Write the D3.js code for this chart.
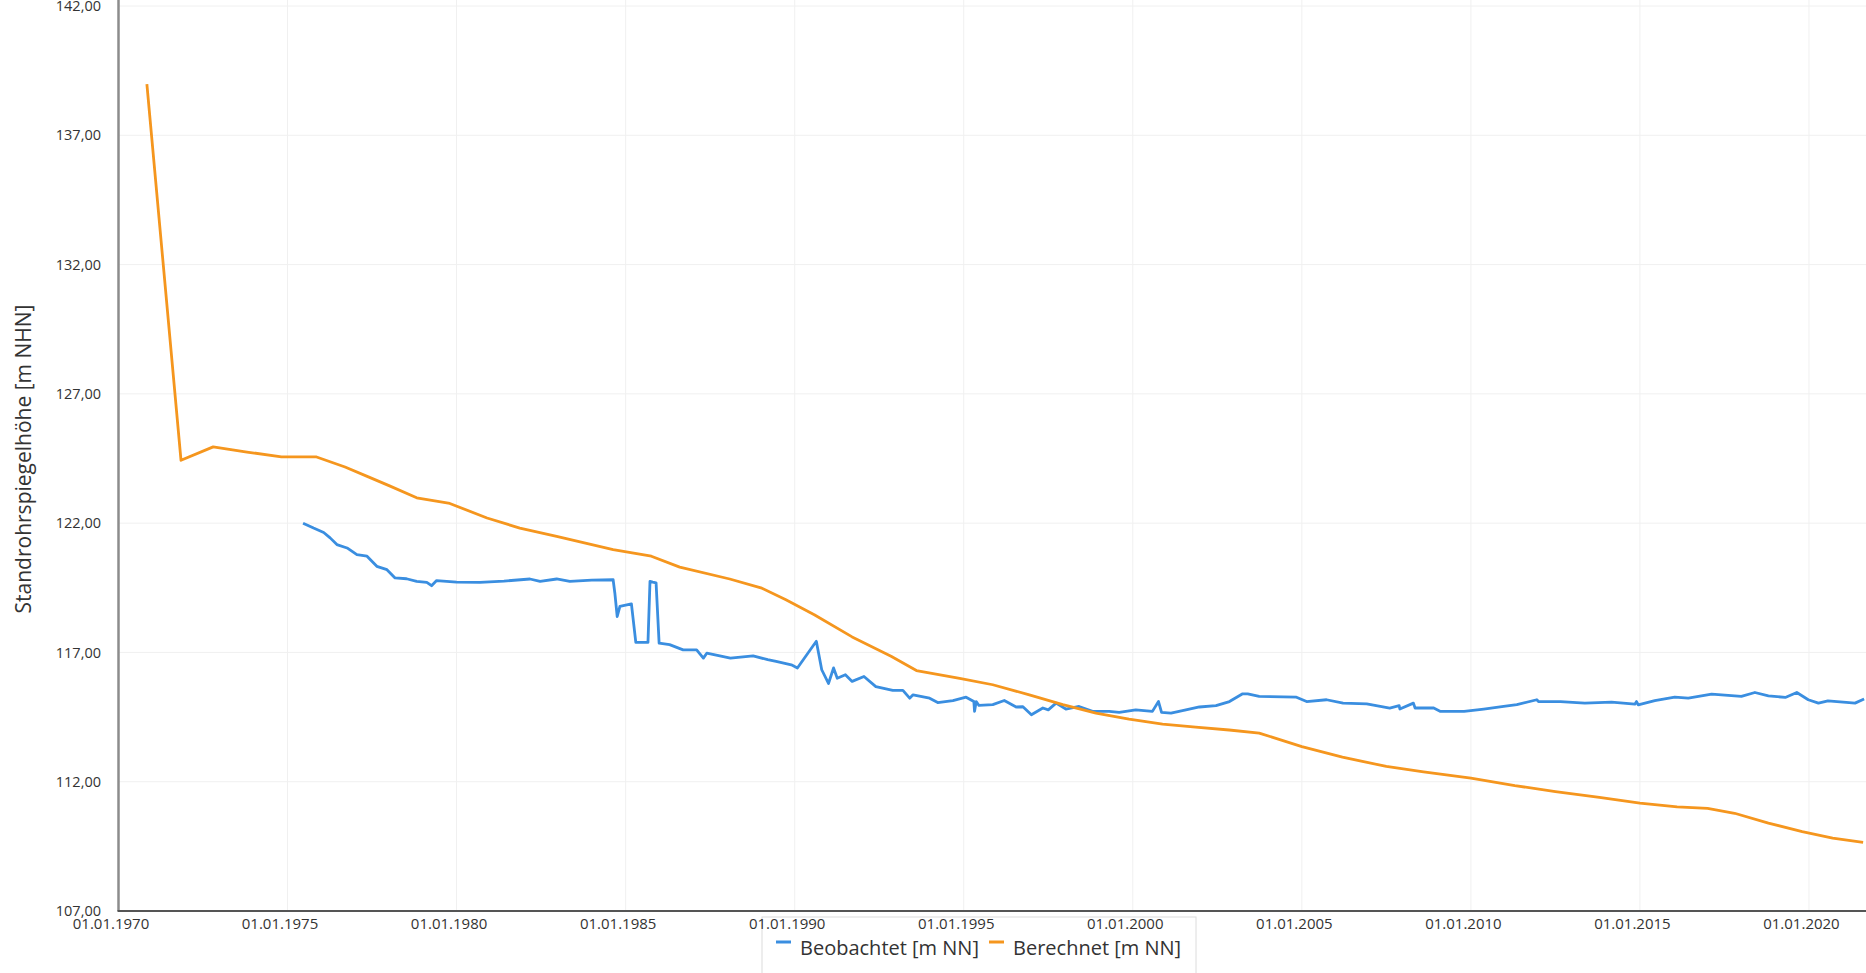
<!DOCTYPE html>
<html>
<head>
<meta charset="utf-8">
<script src="https://cdn.jsdelivr.net/npm/d3@7"></script>
<style>
    body { margin: 0; background: #fff; overflow: hidden; }
    text { font-family: "Open Sans", "Noto Sans", sans-serif; fill: #333; }
</style>
</head>
<body>
<svg id="chart" width="1866" height="973"></svg>
<script>
// observed level (Beobachtet), decimal years + values
let obsYears = [1975.46, 1975.77, 1976.07, 1976.26, 1976.46, 1976.76, 1977.05, 1977.35, 1977.64, 1977.94,
    1978.18, 1978.52, 1978.82, 1979.12, 1979.26, 1979.41, 1980.0, 1980.69, 1981.4, 1982.17,
    1982.47, 1982.96, 1983.35, 1984.0, 1984.63, 1984.68, 1984.75, 1984.83, 1985.17, 1985.3,
    1985.66, 1985.72, 1985.8, 1985.9, 1985.99, 1986.3, 1986.7, 1987.1, 1987.3, 1987.4,
    1988.1, 1988.77, 1989.2, 1989.45, 1989.9, 1990.08, 1990.64, 1990.8, 1991.0, 1991.15,
    1991.26, 1991.5, 1991.7, 1992.05, 1992.4, 1992.9, 1993.2, 1993.4, 1993.5, 1993.99,
    1994.23, 1994.68, 1995.07, 1995.3, 1995.32, 1995.37, 1995.45, 1995.86, 1996.2, 1996.55,
    1996.75, 1997.0, 1997.34, 1997.5, 1997.73, 1998.02, 1998.41, 1998.81, 1999.3, 1999.6,
    2000.09, 2000.58, 2000.76, 2000.85, 2001.13, 2001.57, 2001.97, 2002.46, 2002.86, 2003.25,
    2003.4, 2003.74, 2004.84, 2005.14, 2005.73, 2006.22, 2006.92, 2007.6, 2007.88, 2007.9,
    2008.3, 2008.35, 2008.9, 2009.1, 2009.8, 2010.38, 2010.97, 2011.36, 2011.95, 2012.0,
    2012.65, 2013.37, 2014.16, 2014.85, 2014.9, 2014.95, 2015.44, 2016.03, 2016.43, 2017.12,
    2018.0, 2018.4, 2018.8, 2019.3, 2019.64, 2019.98, 2020.28, 2020.56, 2021.1, 2021.36, 2021.63];
let obsValues = [122.0, 121.81, 121.64, 121.43, 121.17, 121.04, 120.78, 120.72, 120.33, 120.2,
    119.88, 119.85, 119.75, 119.71, 119.58, 119.78, 119.72, 119.71, 119.76, 119.84,
    119.75, 119.84, 119.75, 119.8, 119.81, 119.3, 118.39, 118.78, 118.88, 117.39,
    117.39, 119.75, 119.72, 119.69, 117.36, 117.3, 117.1, 117.1, 116.78, 116.97,
    116.78, 116.87, 116.72, 116.65, 116.52, 116.4, 117.43, 116.33, 115.8, 116.4,
    116.0, 116.14, 115.88, 116.07, 115.68, 115.53, 115.53, 115.23, 115.36, 115.23,
    115.06, 115.14, 115.27, 115.1, 114.72, 115.1, 114.95, 114.98, 115.14, 114.89,
    114.9, 114.59, 114.85, 114.78, 115.04, 114.81, 114.91, 114.72, 114.72, 114.68,
    114.78, 114.72, 115.1, 114.68, 114.65, 114.78, 114.89, 114.94, 115.1, 115.4,
    115.4, 115.3, 115.27, 115.1, 115.17, 115.04, 115.01, 114.85, 114.94, 114.81,
    115.04, 114.85, 114.85, 114.72, 114.72, 114.81, 114.91, 114.98, 115.17, 115.1,
    115.1, 115.04, 115.08, 115.0, 115.1, 114.97, 115.14, 115.27, 115.23, 115.39,
    115.3, 115.45, 115.32, 115.26, 115.45, 115.17, 115.04, 115.13, 115.07, 115.04, 115.2];

// calculated level (Berechnet)
let calcYears = [1970.84, 1971.85, 1972.8, 1973.8, 1974.82, 1975.86, 1976.7, 1977.39, 1978.0, 1978.82,
    1979.8, 1980.9, 1981.87, 1982.96, 1984.63, 1985.76, 1986.6, 1988.08, 1989.0, 1989.74,
    1990.58, 1991.7, 1992.85, 1993.6, 1994.88, 1995.86, 1996.94, 1997.93, 1998.91, 1999.89,
    2000.88, 2001.86, 2002.85, 2003.74, 2005.0, 2006.2, 2007.5, 2008.6, 2010.0, 2011.3,
    2012.5, 2013.8, 2015.0, 2016.1, 2017.0, 2017.8, 2018.8, 2019.8, 2020.7, 2021.6];
let calcValues = [138.98, 124.43, 124.95, 124.75, 124.56, 124.56, 124.17, 123.79, 123.45, 122.98,
    122.76, 122.2, 121.81, 121.49, 120.98, 120.72, 120.3, 119.84, 119.5, 119.04,
    118.46, 117.6, 116.85, 116.3, 116.0, 115.75, 115.36, 114.98, 114.65, 114.42,
    114.23, 114.11, 114.0, 113.88, 113.36, 112.95, 112.59, 112.38, 112.14, 111.85,
    111.62, 111.39, 111.17, 111.03, 110.97, 110.78, 110.4, 110.07, 109.82, 109.65];

let xTickYears = [1970, 1975, 1980, 1985, 1990, 1995, 2000, 2005, 2010, 2015, 2020];
let yTickValues = [107, 112, 117, 122, 127, 132, 137, 142];
let seriesNames = ['Beobachtet [m NN]', 'Berechnet [m NN]'];
let seriesColors = ['#3a8ee0', '#f5961e'];

// decimal year -> Date
function toDate(y) {
    let year = Math.floor(y);
    let start = new Date(year, 0, 1);
    let end = new Date(year + 1, 0, 1);
    return new Date(start.getTime() + (y - year) * (end - start));
}

let svg = d3.select('#chart');
let plot = {left: 118.5, top: 6, bottom: 911, pxPerYear: 33.81};

let xScale = d3.scaleTime()
    .domain([new Date(1970, 0, 1), new Date(2022, 0, 1)])
    .range([plot.left, plot.left + 52 * plot.pxPerYear]);
let yScale = d3.scaleLinear()
    .domain([107, 142])
    .range([plot.bottom, plot.top]);

let obsData = obsYears.map((y, i) => ({date: toDate(y), value: obsValues[i]}));
let calcData = calcYears.map((y, i) => ({date: toDate(y), value: calcValues[i]}));
let xTicks = xTickYears.map(y => new Date(y, 0, 1));

svg.append('clipPath').attr('id', 'plotClip')
    .append('rect')
    .attr('x', plot.left).attr('y', 0)
    .attr('width', 1866 - plot.left).attr('height', plot.bottom);

// gridlines
let grid = svg.append('g');
grid.selectAll('.hgrid').data(yTickValues).enter()
    .append('line')
    .attr('x1', plot.left).attr('x2', 1866)
    .attr('y1', d => yScale(d)).attr('y2', d => yScale(d))
    .attr('stroke', '#f0f0f0').attr('stroke-width', 1);
grid.selectAll('.vgrid').data(xTicks.slice(1)).enter()
    .append('line')
    .attr('x1', d => xScale(d)).attr('x2', d => xScale(d))
    .attr('y1', 0).attr('y2', plot.bottom)
    .attr('stroke', '#f0f0f0').attr('stroke-width', 1);

// axes (labels only, lines drawn separately)
let xAxis = d3.axisBottom(xScale)
    .tickValues(xTicks)
    .tickSize(0)
    .tickFormat(d3.timeFormat('%d.%m.%Y'));
let yAxis = d3.axisLeft(yScale)
    .tickValues(yTickValues)
    .tickSize(0)
    .tickFormat(d => d3.format('.2f')(d).replace('.', ','));

// legend box sits under the x labels
let legend = svg.append('g');
legend.append('rect')
    .attr('x', 762).attr('y', 917)
    .attr('width', 434).attr('height', 70)
    .attr('fill', '#fff').attr('stroke', '#dcdcdc');

svg.append('g')
    .attr('transform', `translate(${-8},${plot.bottom})`)
    .call(xAxis)
    .call(g => g.select('.domain').remove())
    .selectAll('text')
    .attr('y', 13)
    .attr('dy', '0.35em')
    .style('font-size', '15px')
    .style('font-family', '"Open Sans", sans-serif')
    .attr('fill', '#333');

svg.append('g')
    .attr('transform', `translate(${101},0)`)
    .call(yAxis)
    .call(g => g.select('.domain').remove())
    .selectAll('text')
    .attr('x', 0)
    .style('font-size', '14.5px')
    .style('font-family', '"Open Sans", sans-serif')
    .attr('fill', '#333');

// lines
let line = d3.line()
    .x(d => xScale(d.date))
    .y(d => yScale(d.value));

let lines = svg.append('g').attr('clip-path', 'url(#plotClip)');
[obsData, calcData].forEach((data, i) => {
    lines.append('path')
        .datum(data)
        .attr('d', line)
        .attr('fill', 'none')
        .attr('stroke', seriesColors[i])
        .attr('stroke-width', 2.8)
        .attr('stroke-linejoin', 'round');
});

// axis lines
svg.append('line')
    .attr('x1', plot.left).attr('x2', plot.left)
    .attr('y1', 0).attr('y2', plot.bottom)
    .attr('stroke', '#8c8c8c').attr('stroke-width', 2.5);
svg.append('line')
    .attr('x1', plot.left - 1).attr('x2', 1866)
    .attr('y1', plot.bottom).attr('y2', plot.bottom)
    .attr('stroke', '#555').attr('stroke-width', 2);

// y title
svg.append('text')
    .attr('transform', `translate(${31},${459}) rotate(-90)`)
    .attr('text-anchor', 'middle')
    .style('font-size', '21px')
    .text('Standrohrspiegelhöhe [m NHN]');

// legend entries
let legendX = [776, 989];
seriesNames.forEach((name, i) => {
    legend.append('line')
        .attr('x1', legendX[i]).attr('x2', legendX[i] + 15)
        .attr('y1', 942).attr('y2', 942)
        .attr('stroke', seriesColors[i]).attr('stroke-width', 3);
    legend.append('text')
        .attr('x', legendX[i] + 24).attr('y', 955)
        .style('font-size', '20px')
        .text(name);
});
</script>
</body>
</html>
